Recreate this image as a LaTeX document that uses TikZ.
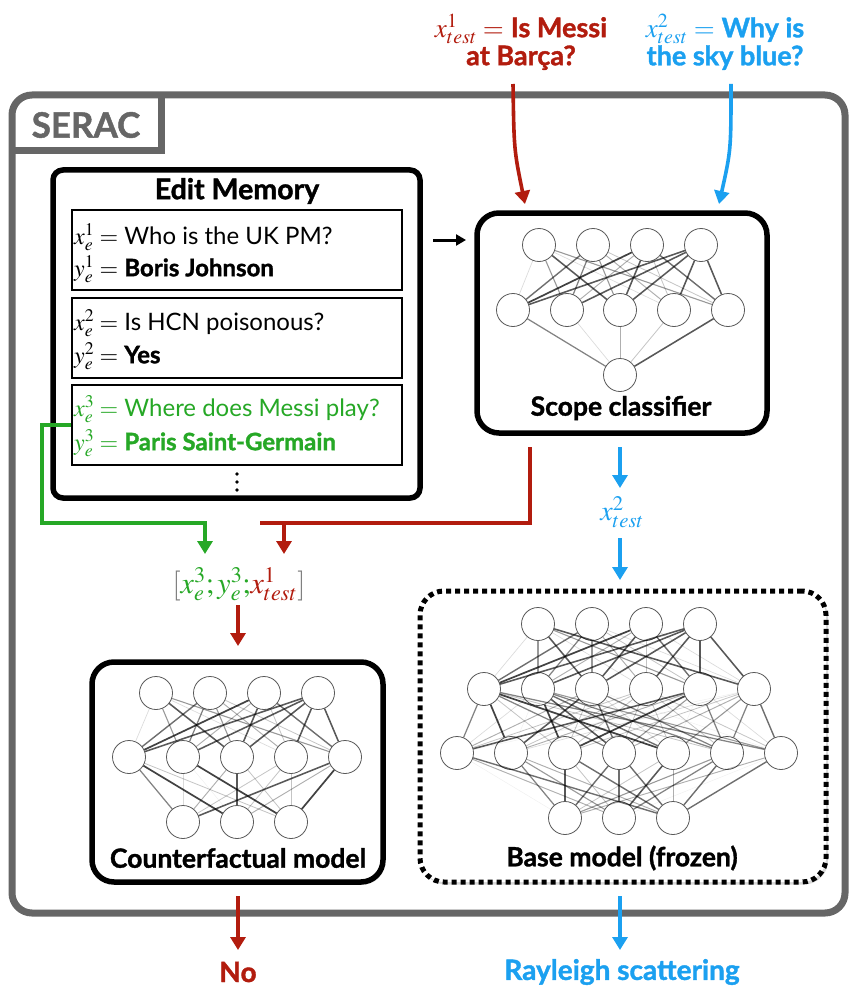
\documentclass[tikz,border=0pt]{standalone}
\usepackage{mathptmx}
\usepackage[no-math]{fontspec}
\setmainfont{Lato}[BoldFeatures={FakeBold=1.3}]
\usetikzlibrary{arrows.meta,shadows}

\definecolor{serared}{RGB}{178,28,14}
\definecolor{serablue}{RGB}{27,160,240}
\definecolor{seragreen}{RGB}{38,168,38}
\definecolor{seragray}{RGB}{102,102,102}

\newcommand\fsz[1]{\fontsize{#1}{#1}\selectfont}

\tikzset{
  neuron/.style={circle, draw=black!65, line width=0.8pt, fill=white,
    minimum size=33pt, inner sep=0pt},
  flow/.style={line width=3.6pt, -{Triangle[length=13pt,width=15pt]}},
  shade box/.style={drop shadow={shadow xshift=2pt, shadow yshift=-2.5pt, opacity=0.3}},
  modelbox/.style={draw=black, line width=5.5pt, fill=white, rounded corners=22pt,
    inner sep=0pt, shade box},
  entrybox/.style={draw=black, line width=1.6pt, fill=white, inner sep=0pt,
    minimum width=330pt, minimum height=80pt},
  boxlabel/.style={font=\fsz{26.5}\bfseries},
  entrytext/.style={font=\fsz{24}, anchor=west, inner sep=0pt},
  memdot/.style={circle, fill=black, inner sep=0pt, minimum size=3.6pt},
}

% one layer of neurons: prefix, layer, y, list of x
\newcommand\neuronlayer[4]{%
  \foreach \xx [count=\k] in {#4} \node[neuron] (#1-#2-\k) at (\xx,#3) {};}

% all links between two layers, with varying weight
\newcommand\linklayers[5]{%
  \foreach \i in {1,...,#3}{\foreach \j in {1,...,#5}{%
    \pgfmathtruncatemacro\w{mod(\i*\i*3+\j*7+\i*\j*5+#2*4,9)}%
    \pgfmathsetmacro\op{0.06+0.085*\w}%
    \pgfmathsetmacro\lw{0.5+0.15*\w}%
    \draw[line width=\lw pt, draw=black, draw opacity=\op] (#1-#2-\i) -- (#1-#4-\j);}}}

\begin{document}
\begin{tikzpicture}[x=1pt,y=-1pt]
\useasboundingbox (0,0) rectangle (849,987);

% ---- SERAC frame ----
\node[draw=seragray, line width=7pt, fill=white, rounded corners=20pt,
  minimum width=833pt, minimum height=818pt, inner sep=0pt, shade box]
  (serac) at (428.5,504) {};
\draw[seragray, line width=7pt] (12,151) -- (161,151) -- (161,95);
\node[font=\fsz{35}\bfseries, text=seragray] (seraclabel) at (86,125) {SERAC};

% ---- Edit memory ----
\node[draw=black, line width=5.5pt, fill=white, rounded corners=10pt,
  minimum width=367pt, minimum height=328pt, inner sep=0pt, shade box]
  (memory) at (236.5,334) {};
\node[font=\fsz{28.5}\bfseries] (memtitle) at (237,191) {Edit Memory};

\node[entrybox] (m1) at (237,250) {};
\node[entrytext] (m1x) at (74,237) {$x_e^1 =$ Who is the UK PM?};
\node[entrytext] (m1y) at (74,269) {$y_e^1 =$ \textbf{Boris Johnson}};

\node[entrybox] (m2) at (237,338) {};
\node[entrytext] (m2x) at (74,323) {$x_e^2 =$ Is HCN poisonous?};
\node[entrytext] (m2y) at (74,356) {$y_e^2 =$ \textbf{Yes}};

\node[entrybox] (m3) at (237,425) {};
\node[entrytext, text=seragreen] (m3x) at (74,409) {$x_e^3 =$ Where does Messi play?};
\node[entrytext, text=seragreen] (m3y) at (74,443) {$y_e^3 =$ \textbf{Paris Saint-Germain}};

% more entries below
\node[memdot] (dot1) at (237,474) {};
\node[memdot] (dot2) at (237,482) {};
\node[memdot] (dot3) at (237,490) {};

% ---- Scope classifier ----
\node[modelbox, minimum width=290pt, minimum height=220pt] (scope) at (622,323) {};
\neuronlayer{sc}{1}{245}{539,593,647,701}
\neuronlayer{sc}{2}{310}{513,567,620,674,728}
\neuronlayer{sc}{3}{375}{620}
\linklayers{sc}{1}{4}{2}{5}
\linklayers{sc}{2}{5}{3}{1}
\node[boxlabel] (scopelabel) at (621,408) {Scope classifier};

% ---- Counterfactual model ----
\node[modelbox, minimum width=291pt, minimum height=220pt] (cf) at (237.5,772) {};
\neuronlayer{cf}{1}{693}{156,210,264,318}
\neuronlayer{cf}{2}{757}{129,183,237,291,345}
\neuronlayer{cf}{3}{822}{183,237,291}
\linklayers{cf}{1}{4}{2}{5}
\linklayers{cf}{2}{5}{3}{3}
\node[boxlabel] (cflabel) at (238,858) {Counterfactual model};

% ---- Base model (frozen) ----
\node[draw=black, line width=5pt, dash pattern=on 5pt off 4pt, fill=white,
  rounded corners=24pt, minimum width=406pt, minimum height=291pt, inner sep=0pt,
  shade box] (base) at (623,736.5) {};
\neuronlayer{bm}{1}{624}{538,592,646,700}
\neuronlayer{bm}{2}{689}{484,538,592,646,700,754}
\neuronlayer{bm}{3}{753}{457,511,565,619,673,727,781}
\neuronlayer{bm}{4}{818}{565,619,673}
\linklayers{bm}{1}{4}{2}{6}
\linklayers{bm}{2}{6}{3}{7}
\linklayers{bm}{3}{7}{4}{3}
\node[boxlabel] (baselabel) at (622,858) {Base model (frozen)};

% ---- test inputs ----
\node[font=\fsz{27}, text=serared, align=center] (q1) at (521,42)
  {$x_{test}^1 =$ \textbf{Is Messi}\\[1pt] \textbf{at Barça?}};
\node[font=\fsz{27}, text=serablue, align=center] (q2) at (725,42)
  {$x_{test}^2 =$ \textbf{Why is}\\[1pt] \textbf{the sky blue?}};

\coordinate (q1s) at (513,84);
\coordinate (q1e) at (525,204);
\coordinate (q2s) at (731,84);
\coordinate (q2e) at (719,204);
\draw[flow, serared] (q1s) .. controls (514,150) .. (q1e);
\draw[flow, serablue] (q2s) .. controls (731,150) .. (q2e);

% memory feeds the classifier
\coordinate (mema) at (433,240);
\coordinate (memb) at (466,240);
\draw[line width=3pt, -{Triangle[length=10pt,width=11pt]}] (mema) -- (memb);

% ---- retrieved edit + test input ----
\node[font=\fsz{30}, inner sep=0pt] (combo) at (239,584)
  {$\textcolor{gray}{[}\textcolor{seragreen}{x_e^3;y_e^3;}\textcolor{serared}{x_{test}^1}\textcolor{gray}{]}$};

\coordinate (gturn) at (42,523);
\coordinate (gend) at (205,554);
\draw[seragreen, line width=3.6pt, -{Triangle[length=13pt,width=15pt]}]
  (m3.west) -| (gturn) -| (gend);

\coordinate (rstart) at (530,447);
\coordinate (rend) at (284,554);
\draw[serared, line width=3.6pt, -{Triangle[length=13pt,width=15pt]}]
  (rstart) |- (260,523) -| (rend);

\coordinate (cfin) at (238,646);
\draw[flow, serared] (238,605) -- (cfin);

% ---- out-of-scope route ----
\node[font=\fsz{28}, text=serablue, inner sep=0pt] (xt2) at (622,512) {$x_{test}^2$};
\coordinate (sb) at (620,447);
\draw[flow, serablue] (sb) -- (620,488);
\coordinate (bin) at (620,580);
\draw[flow, serablue] (620,538) -- (bin);

% ---- outputs ----
\node[font=\fsz{28}\bfseries, text=serared] (outno) at (238,972) {No};
\node[font=\fsz{28}\bfseries, text=serablue] (outbase) at (622,972) {Rayleigh scattering};
\coordinate (cfo) at (238,896);
\coordinate (bo) at (620,896);
\draw[flow, serared] (cfo) -- (238,950);
\draw[flow, serablue] (bo) -- (620,950);
\end{tikzpicture}
\end{document}
